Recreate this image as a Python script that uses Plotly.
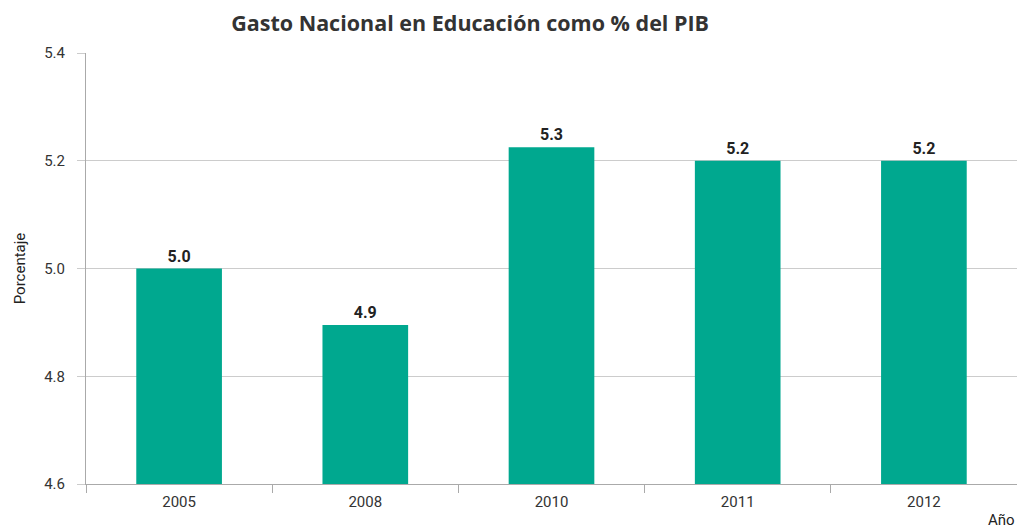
import plotly.graph_objects as go

anios = ["2005", "2008", "2010", "2011", "2012"]
porcentaje = [5.0, 4.895, 5.225, 5.2, 5.2]
etiquetas = ["5.0", "4.9", "5.3", "5.2", "5.2"]

fig = go.Figure(
    go.Bar(
        x=anios,
        y=porcentaje,
        text=etiquetas,
        textposition="outside",
        textfont=dict(family="Roboto", size=16, color="#222222", weight="bold"),
        marker=dict(color="#00A88F", line=dict(width=0)),
        width=0.46,
        cliponaxis=False,
        hoverinfo="skip",
    )
)

# the page body adds an 8px offset, so the figure is a little smaller
fig.update_layout(
    width=1009,
    height=521,
    margin=dict(l=78, r=0, t=45, b=45),
    paper_bgcolor="white",
    plot_bgcolor="white",
    showlegend=False,
    font=dict(family="Roboto", size=15, color="#333333"),
    title=dict(
        text="<b>Gasto Nacional en Educación como % del PIB</b>",
        x=0.458,
        xanchor="center",
        y=0.971,
        yanchor="middle",
        font=dict(family="Open Sans", size=21.5, color="#333333"),
    ),
)

fig.update_yaxes(
    range=[4.6, 5.4],
    dtick=0.2,
    tickformat=".1f",
    automargin=False,
    showgrid=True,
    gridcolor="#CCCCCC",
    gridwidth=1,
    showline=True,
    linecolor="#AAAAAA",
    linewidth=1,
    ticks="outside",
    ticklen=8,
    tickcolor="#CCCCCC",
    ticklabelstandoff=9,
    zeroline=False,
    title=dict(text="Porcentaje", font=dict(size=15, color="#222222"), standoff=14),
)

fig.update_xaxes(
    automargin=False,
    showline=True,
    linecolor="#AAAAAA",
    linewidth=1,
    ticks="outside",
    tickson="boundaries",
    ticklen=8,
    tickcolor="#AAAAAA",
    ticklabelstandoff=4,
    showgrid=False,
)

fig.add_annotation(
    text="Año",
    xref="paper",
    yref="paper",
    x=1.0,
    y=-0.057,
    xanchor="right",
    yanchor="top",
    showarrow=False,
    font=dict(size=15, color="#222222"),
)

fig.write_html("out.html")
